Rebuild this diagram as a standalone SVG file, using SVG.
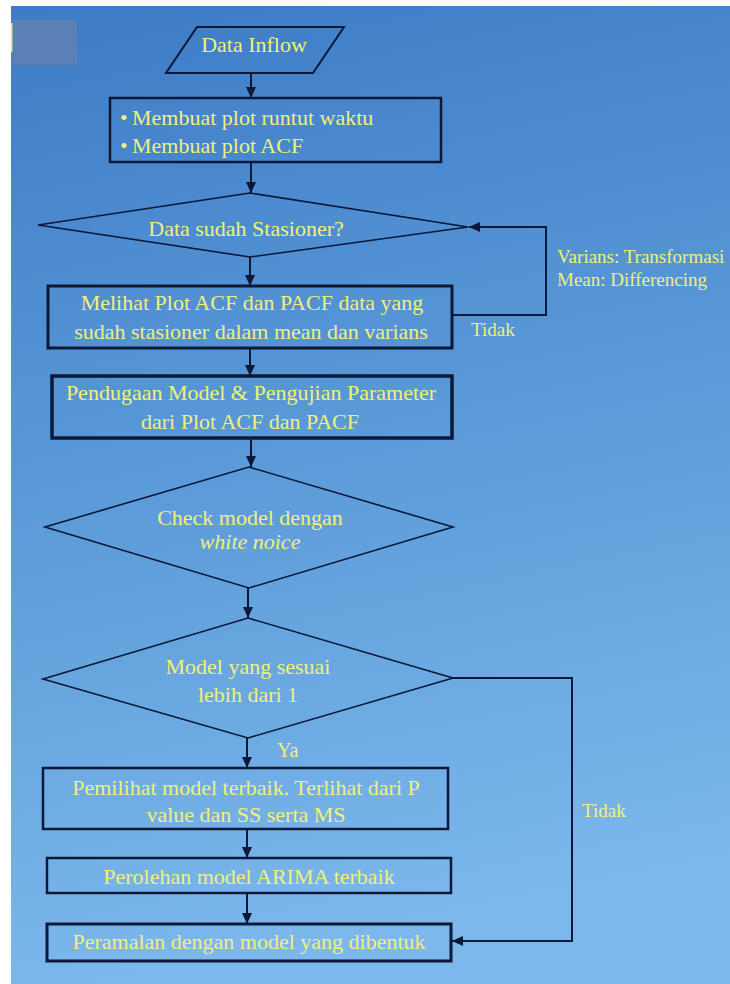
<svg xmlns="http://www.w3.org/2000/svg" width="730" height="984" viewBox="0 0 730 984">
  <defs>
    <linearGradient id="bg" x1="0" y1="0" x2="0.15" y2="1">
      <stop offset="0" stop-color="#3d7cc6"/>
      <stop offset="0.5" stop-color="#5b9ad8"/>
      <stop offset="1" stop-color="#7cb8ec"/>
    </linearGradient>
    <marker id="ah" markerUnits="userSpaceOnUse" markerWidth="12" markerHeight="10" refX="11" refY="5" orient="auto">
      <path d="M0,0 L11,5 L0,10 z" fill="#0b1838"/>
    </marker>
    <style>
      text { font-family: 'Liberation Serif', serif; }
      .t { font-size: 22px; fill: #f0f07a; text-anchor: middle; }
      .s { font-size: 19px; fill: #f0f07a; }
      .box { fill: none; stroke: #0b1838; }
      .dia { fill: none; stroke: #0b1838; stroke-width: 1.6; }
      .c { fill: none; stroke: #0b1838; stroke-width: 2; }
    </style>
  </defs>
  <rect x="0" y="0" width="730" height="984" fill="#ffffff"/>
  <rect x="11" y="6" width="719" height="978" fill="url(#bg)"/>
  <rect x="11" y="20" width="66" height="45" fill="#5a80b6"/>
  <rect x="11" y="23" width="1.5" height="29" fill="#e8e860"/>

  <g id="connectors">
    <line class="c" x1="251" y1="73" x2="251" y2="98" marker-end="url(#ah)"/>
    <line class="c" x1="251" y1="162" x2="251" y2="193" marker-end="url(#ah)"/>
    <line class="c" x1="250" y1="257" x2="250" y2="286" marker-end="url(#ah)"/>
    <line class="c" x1="250" y1="348" x2="250" y2="376" marker-end="url(#ah)"/>
    <line class="c" x1="251" y1="438" x2="251" y2="467" marker-end="url(#ah)"/>
    <line class="c" x1="248" y1="588" x2="248" y2="618" marker-end="url(#ah)"/>
    <line class="c" x1="247" y1="738" x2="247" y2="768" marker-end="url(#ah)"/>
    <line class="c" x1="247" y1="829" x2="247" y2="858" marker-end="url(#ah)"/>
    <line class="c" x1="247" y1="893" x2="247" y2="924" marker-end="url(#ah)"/>
    <polyline class="c" points="452,315 546,315 546,227 469,227" marker-end="url(#ah)"/>
    <polyline class="c" points="453,678 572,678 572,941 452,941" marker-end="url(#ah)"/>
    <text class="s" x="471" y="336">Tidak</text>
    <text class="s" x="557" y="263">Varians: Transformasi</text>
    <text class="s" x="557" y="286">Mean: Differencing</text>
    <text class="s" x="277" y="757" style="font-size:20px">Ya</text>
    <text class="s" x="582" y="817">Tidak</text>
  </g>

  <g id="data-inflow">
    <polygon class="dia" points="197,27 344,27 313,73 166,73" style="stroke-width:2"/>
    <text class="t" x="254" y="52">Data Inflow</text>
  </g>

  <g id="plot-awal">
    <rect class="box" x="110" y="98" width="331" height="64" stroke-width="2.5"/>
    <text class="t" x="120" y="125" style="text-anchor:start">•</text>
    <text class="t" x="132" y="125" style="text-anchor:start">Membuat plot runtut waktu</text>
    <text class="t" x="120" y="153" style="text-anchor:start">•</text>
    <text class="t" x="132" y="153" style="text-anchor:start">Membuat plot ACF</text>
  </g>

  <g id="stasioner">
    <polygon class="dia" points="250,193 468,227 250,257 38,225"/>
    <text class="t" x="246" y="236">Data sudah Stasioner?</text>
  </g>

  <g id="acf-pacf">
    <rect class="box" x="48" y="286" width="404" height="62" stroke-width="3"/>
    <text class="t" x="252" y="310">Melihat Plot ACF dan PACF data yang</text>
    <text class="t" x="251" y="339">sudah stasioner dalam mean dan varians</text>
  </g>

  <g id="pendugaan">
    <rect class="box" x="52" y="376" width="400" height="62" stroke-width="3.5"/>
    <text class="t" x="251" y="400">Pendugaan Model &amp; Pengujian Parameter</text>
    <text class="t" x="250" y="429">dari Plot ACF dan PACF</text>
  </g>

  <g id="white-noise">
    <polygon class="dia" points="249,467 453,527 249,588 45,527"/>
    <text class="t" x="250" y="525">Check model dengan</text>
    <text class="t" x="250" y="549" font-style="italic">white noice</text>
  </g>

  <g id="model-sesuai">
    <polygon class="dia" points="248,618 453,678 248,738 43,679"/>
    <text class="t" x="248" y="674">Model yang sesuai</text>
    <text class="t" x="248" y="702">lebih dari 1</text>
  </g>

  <g id="pemilihan">
    <rect class="box" x="43" y="768" width="405" height="61" stroke-width="2.5"/>
    <text class="t" x="246" y="795">Pemilihat model terbaik. Terlihat dari P</text>
    <text class="t" x="246" y="822">value dan SS serta MS</text>
  </g>

  <g id="arima">
    <rect class="box" x="47" y="858" width="404" height="35" stroke-width="2.5"/>
    <text class="t" x="249" y="884">Perolehan model ARIMA terbaik</text>
  </g>

  <g id="peramalan">
    <rect class="box" x="47" y="924" width="404" height="37" stroke-width="3"/>
    <text class="t" x="249" y="949">Peramalan dengan model yang dibentuk</text>
  </g>
</svg>
